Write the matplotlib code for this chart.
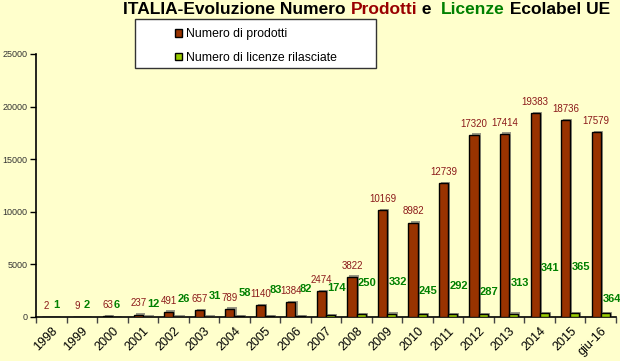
import matplotlib
matplotlib.use("Agg")
import matplotlib.pyplot as plt
import matplotlib.patheffects as pe
from matplotlib.patches import Rectangle, Patch
import numpy as np

plt.rcParams['font.family'] = ['Liberation Sans', 'DejaVu Sans']

years = ["1998", "1999", "2000", "2001", "2002", "2003", "2004", "2005", "2006", "2007",
         "2008", "2009", "2010", "2011", "2012", "2013", "2014", "2015", "giu-16"]
prodotti = [2, 9, 63, 237, 491, 657, 789, 1140, 1384, 2474,
            3822, 10169, 8982, 12739, 17320, 17414, 19383, 18736, 17579]
licenze = [1, 2, 6, 12, 26, 31, 58, 83, 82, 174,
           250, 332, 245, 292, 287, 313, 341, 365, 364]

# heights where the licence labels sit in the original (hand placed)
lic_label_y = [1150, 1150, 1150, 1240, 1720, 2000, 2290, 2580, 2670, 2770,
               3240, 3340, 2480, 2960, 2390, 3240, 4680, 4770, 1720]

bg = "#FFFFCC"
brown = "#993300"
lime = "#99CC00"
red_txt = "#8B1A1A"
green_txt = "#008000"

fig = plt.figure(figsize=(6.2, 3.61), dpi=100, facecolor=bg)
ax = fig.add_axes([36 / 620, 1 - 317 / 361, 580 / 620, 263 / 361])
ax.set_facecolor(bg)

x = np.arange(len(years))
w = 0.3
shadow = [pe.SimplePatchShadow(offset=(1.5, 1), shadow_rgbFace="#555555", alpha=0.6), pe.Normal()]

b1 = ax.bar(x - w / 2, prodotti, w, color=brown, edgecolor="black", linewidth=1, zorder=3)
b2 = ax.bar(x + w / 2, licenze, w, color=lime, edgecolor="black", linewidth=1, zorder=3)
for b in list(b1) + list(b2):
    b.set_path_effects(shadow)

for i, v in enumerate(prodotti):
    ax.annotate(str(v), (x[i] - w / 2, v), xytext=(0, 8), textcoords="offset points",
                ha="center", va="center", fontsize=7, color=red_txt, zorder=5)
for i, v in enumerate(licenze):
    dx = 0 if i < 3 else 4.5
    ax.annotate(str(v), (x[i] + w / 2, lic_label_y[i]), xytext=(dx, 0), textcoords="offset points",
                ha="center", va="center", fontsize=8, fontweight="bold", color=green_txt, zorder=5)

ax.set_xlim(-0.5, len(years) - 0.5)
ax.set_ylim(0, 25000)
ax.set_yticks(range(0, 25001, 5000))
ax.tick_params(axis="y", labelsize=6.5, length=4, width=1, pad=2, labelcolor="#333333")
ax.set_xticks(x)
ax.set_xticklabels(years, rotation=45, ha="right", rotation_mode="anchor", fontsize=9)
ax.set_xticks(np.arange(-0.5, len(years), 1), minor=True)
ax.tick_params(axis="x", which="major", length=0, pad=6)
ax.tick_params(axis="x", which="minor", length=4, width=1, color="#444444")
for s in ["top", "right"]:
    ax.spines[s].set_visible(False)
ax.spines["left"].set_linewidth(1.2)
ax.spines["bottom"].set_linewidth(1.2)

# legend with its own frame
fig.patches.append(Rectangle((135 / 620, 1 - 68 / 361), 241 / 620, 49 / 361, transform=fig.transFigure,
                             facecolor="white", edgecolor="#333333", linewidth=1))
handles = [Patch(facecolor=brown, edgecolor="black"), Patch(facecolor=lime, edgecolor="black")]
fig.legend(handles, ["Numero di prodotti", "Numero di licenze rilasciate"], loc="upper left",
           bbox_to_anchor=(169 / 620, 1 - 22 / 361), frameon=False, fontsize=8.8,
           handlelength=0.6, handleheight=0.6, handletextpad=0.25, labelspacing=0.95, borderpad=0)

# title in coloured pieces, chained one after the other
parts = [("ITALIA-Evoluzione Numero ", "black"), ("Prodotti", "#990000"), (" e  ", "black"),
         ("Licenze", "#008000"), (" Ecolabel UE", "black")]
prev = fig.text(123 / 620, 1 - 14 / 361, parts[0][0], color=parts[0][1], fontsize=12.5,
                fontweight="bold", va="baseline")
for txt, col in parts[1:]:
    prev = ax.annotate(txt, xy=(1, 0), xycoords=prev, va="bottom", ha="left",
                       color=col, fontsize=12.5, fontweight="bold", annotation_clip=False)

fig.savefig("out.png", dpi=100, facecolor=bg)
